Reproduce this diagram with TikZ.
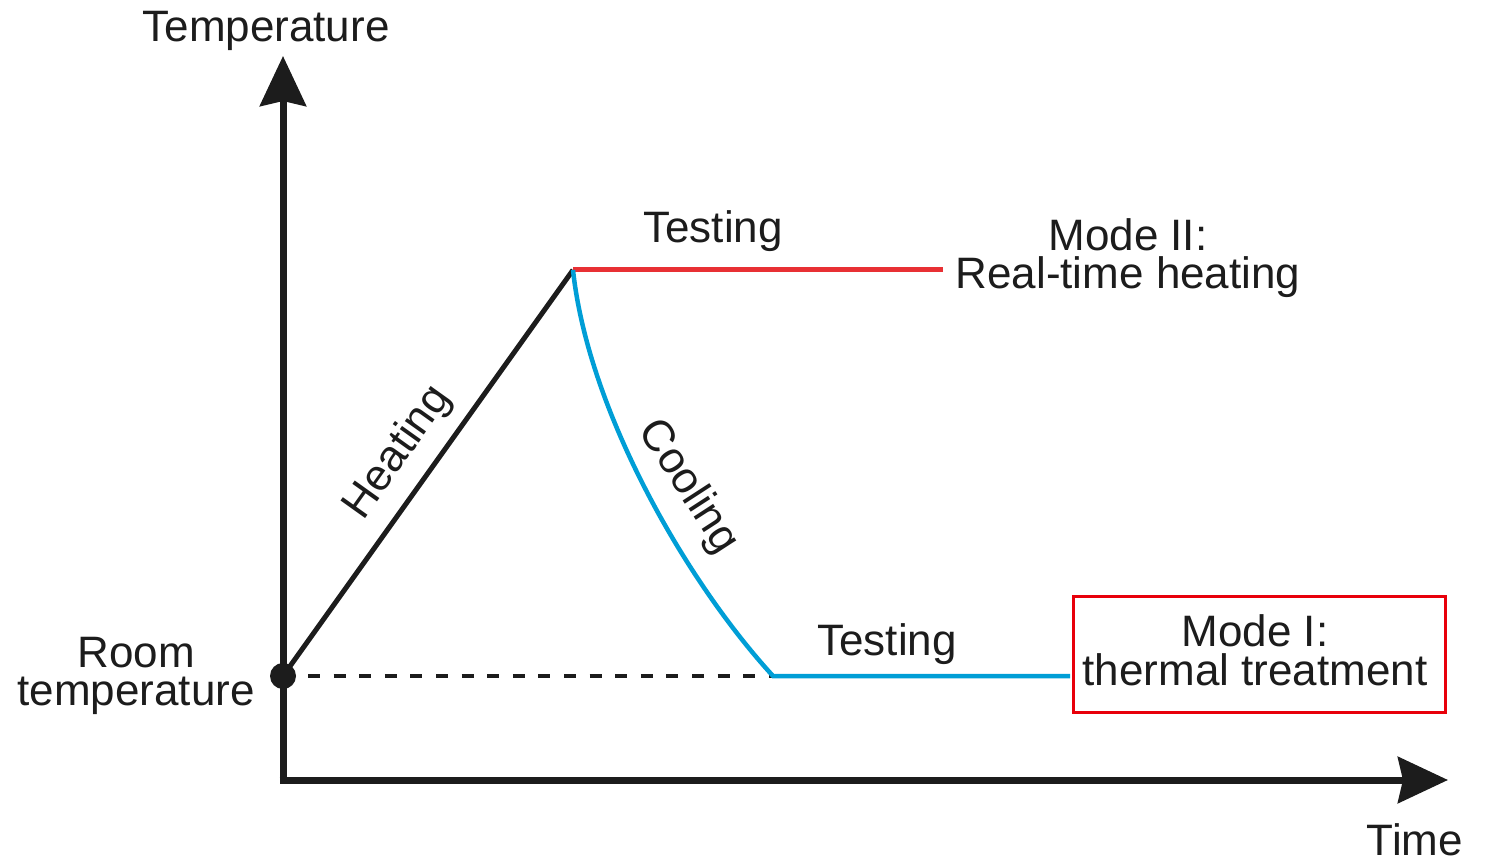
\documentclass[tikz,border=0pt]{standalone}
\usepackage{fontspec}
\setmainfont{Liberation Sans}
\usetikzlibrary{arrows.meta}
\definecolor{ink}{RGB}{28,28,28}
\definecolor{hotred}{RGB}{232,48,52}
\definecolor{boxred}{RGB}{232,0,10}
\definecolor{coolblue}{RGB}{0,158,214}
\begin{document}
\begin{tikzpicture}[x=1pt,y=-1pt,
  lbl/.style={font=\fontsize{44}{44}\selectfont, text=ink, inner sep=0pt, anchor=base},
  axisline/.style={line width=7pt, draw=ink, -{Stealth[length=50pt,width=46pt,inset=5pt]}},
  heatline/.style={line width=5pt, draw=ink},
  testred/.style={line width=5pt, draw=hotred},
  coolline/.style={line width=4.5pt, draw=coolblue},
  dashline/.style={line width=4pt, draw=ink, dash pattern=on 12pt off 13.6pt}]
\useasboundingbox (0,0) rectangle (1491,858);
% coordinates
\coordinate (O) at (283,780);
\coordinate (ytip) at (283,56);
\coordinate (xtip) at (1448,780);
\coordinate (peak) at (573,270);
\coordinate (low) at (773,676);
\coordinate (redend) at (943,270);
\coordinate (blueend) at (1070,676);
\node[circle, fill=ink, inner sep=0pt, minimum size=26pt] (room) at (283,676) {};
% axes
\draw[axisline] ([yshift=-3.5pt]O) -- (ytip);
\draw[axisline] ([xshift=-3.5pt]O) -- (xtip);
% curves
\draw[dashline] ([xshift=25pt]room.center) -- (low);
\draw[heatline] (room.center) -- (peak);
\draw[testred] (peak) -- (redend);
\draw[coolline] (peak) .. controls (588,410) and (685,580) .. (low) -- (blueend);
% box
\node[draw=boxred, line width=3pt, minimum width=372pt, minimum height=116pt, inner sep=0pt] (modeI) at (1259,654) {};
% labels
\node[lbl] (tempaxis) at (266,42) {Temperature};
\node[lbl] (timeaxis) at (1415,855) {Time};
\node[lbl] (test1) at (713,243) {Testing};
\node[lbl] (test2) at (887,655) {Testing};
\node[lbl] (m2a) at (1128,251) {Mode II:};
\node[lbl] (m2b) at (1128,289) {Real-time heating};
\node[lbl] (m1a) at (1255,646) {Mode I:};
\node[lbl] (m1b) at (1255,685) {thermal treatment};
\node[lbl] (rooma) at (136,667) {Room};
\node[lbl] (roomb) at (136,705) {temperature};
\node[lbl, anchor=center, rotate=54.5] (heat) at (398,453) {Heating};
\node[lbl, anchor=center, rotate=-57] (cool) at (688,487) {Cooling};
\end{tikzpicture}
\end{document}
